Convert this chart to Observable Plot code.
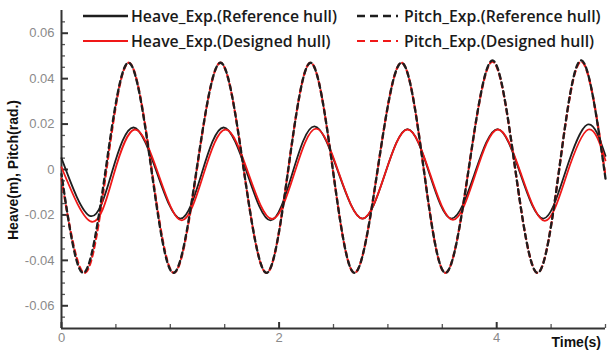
<!DOCTYPE html>
<html>
<head>
<meta charset="utf-8">
<script src="https://cdn.jsdelivr.net/npm/d3@7"></script>
<script src="https://cdn.jsdelivr.net/npm/@observablehq/plot@0.6"></script>
<style>
  html, body { margin: 0; padding: 0; background: #fff; }
  svg { display: block; }
</style>
</head>
<body>
<div id="chart"></div>
<script>
// [time (s), value]
const heaveRef = [[0,0.005],[0.267,-0.0205],[0.465,-0.001],[0.662,0.0185],[0.878,-0.0015],[1.094,-0.0216],[1.29,-0.0015],[1.489,0.0185],[1.705,-0.0015],[1.921,-0.0224],[2.123,-0.0015],[2.325,0.019],[2.546,-0.0015],[2.767,-0.0216],[2.973,-0.002],[3.18,0.0178],[3.383,-0.002],[3.585,-0.0216],[3.796,-0.002],[4.007,0.0178],[4.218,-0.002],[4.43,-0.0216],[4.632,-0.001],[4.835,0.0198],[5.0,0.006]];
const heaveDes = [[0,0.001],[0.28,-0.023],[0.478,-0.0025],[0.675,0.0176],[0.89,-0.002],[1.106,-0.0224],[1.306,-0.002],[1.508,0.0176],[1.72,-0.002],[1.935,-0.0218],[2.138,-0.002],[2.34,0.018],[2.553,-0.002],[2.767,-0.0216],[2.973,-0.002],[3.18,0.0176],[3.388,-0.002],[3.598,-0.0222],[3.805,-0.002],[4.013,0.0176],[4.228,-0.0025],[4.443,-0.0226],[4.642,-0.0025],[4.842,0.0176],[5.0,0.004]];
const pitchRef = [[0,-0.002],[0.202,-0.0455],[0.409,0.001],[0.616,0.047],[0.823,0.001],[1.029,-0.0455],[1.245,0.001],[1.461,0.047],[1.672,0.001],[1.884,-0.0455],[2.087,0.001],[2.289,0.047],[2.491,0.001],[2.693,-0.0455],[2.909,0.001],[3.125,0.047],[3.327,0.001],[3.529,-0.0455],[3.745,0.001],[3.961,0.048],[4.168,0.001],[4.375,-0.0455],[4.577,0.001],[4.779,0.048],[5.0,-0.004]];
const pitchDes = [[0,-0.004],[0.215,-0.0455],[0.416,0.001],[0.618,0.047],[0.826,0.001],[1.033,-0.0455],[1.247,0.001],[1.461,0.047],[1.672,0.001],[1.884,-0.0455],[2.087,0.001],[2.289,0.047],[2.491,0.001],[2.693,-0.0455],[2.909,0.001],[3.125,0.047],[3.327,0.001],[3.529,-0.0455],[3.745,0.001],[3.961,0.0475],[4.168,0.001],[4.375,-0.0455],[4.577,0.001],[4.779,0.0475],[5.0,-0.003]];

const yMajor = [-0.06,-0.04,-0.02,0,0.02,0.04,0.06];
const yMinor = [-0.065,-0.055,-0.05,-0.045,-0.035,-0.03,-0.025,-0.015,-0.01,-0.005,0.005,0.01,0.015,0.025,0.03,0.035,0.045,0.05,0.055,0.065];
const xMajor = [0,2,4];
const xMinor = [0.5,1,1.5,2.5,3,3.5,4.5,5];

const seriesNames = ["Heave_Exp.(Reference hull)","Heave_Exp.(Designed hull)","Pitch_Exp.(Reference hull)","Pitch_Exp.(Designed hull)"];
const xTitle = "Time(s)";
const yTitle = "Heave(m), Pitch(rad.)";

const W = 609, H = 354, mL = 61, mR = 4, mT = 10, mB = 26;
const innerW = W - mL - mR, innerH = H - mT - mB;
const fmt = d => d === 0 ? "0" : (d < 0 ? "-" : "") + Math.abs(d).toFixed(2);
const BLACK = "#1e1e1e", RED = "#f01818";

const chart = Plot.plot({
  width: W, height: H,
  marginLeft: mL, marginRight: mR, marginTop: mT, marginBottom: mB,
  style: {fontFamily: "'Liberation Sans', Arial, sans-serif", fontSize: "13px", background: "#fff", color: "#222"},
  x: {domain: [0, 5]},
  y: {domain: [-0.07, 0.07]},
  marks: [
    Plot.axisY(yMajor, {tickSize: 0, tickPadding: 7, tickFormat: fmt, color: "#8a8a8a", fontSize: 13, label: null}),
    Plot.axisX(xMajor, {tickSize: 0, tickPadding: 4, tickFormat: d => String(d), color: "#8a8a8a", fontSize: 13, label: null}),
    Plot.tickY(yMajor, {y: d => d, insetRight: innerW - 7, stroke: "#333", strokeWidth: 2}),
    Plot.tickY(yMinor, {y: d => d, insetRight: innerW - 4, stroke: "#555", strokeWidth: 1.3}),
    Plot.tickX(xMajor, {x: d => d, insetTop: innerH - 6, stroke: "#333", strokeWidth: 2}),
    Plot.tickX(xMinor, {x: d => d, insetTop: innerH - 4, stroke: "#555", strokeWidth: 1.3}),
    Plot.ruleX([0], {stroke: "#333", strokeWidth: 2}),
    Plot.ruleY([-0.07], {stroke: "#333", strokeWidth: 2}),
    Plot.line(heaveRef, {x: d => d[0], y: d => d[1], curve: "natural", stroke: BLACK, strokeWidth: 1.8}),
    Plot.line(heaveDes, {x: d => d[0], y: d => d[1], curve: "natural", stroke: RED, strokeWidth: 1.8}),
    Plot.line(pitchDes, {x: d => d[0], y: d => d[1], curve: "natural", stroke: RED, strokeWidth: 2.3, strokeDasharray: "5,4"}),
    Plot.line(pitchRef, {x: d => d[0], y: d => d[1], curve: "natural", stroke: BLACK, strokeWidth: 2.3, strokeDasharray: "5,4", strokeDashoffset: 3})
  ]
});
document.getElementById("chart").appendChild(chart);

const svg = d3.select(chart);
// axis titles
svg.append("text").attr("x", 601).attr("y", 347).attr("text-anchor", "end")
  .attr("font-family", "'Liberation Sans', Arial, sans-serif").attr("font-weight", "bold").attr("font-size", 14)
  .attr("fill", "#111").text(xTitle);
svg.append("text").attr("transform", "translate(18,170) rotate(-90)").attr("text-anchor", "middle")
  .attr("font-family", "'Liberation Sans', Arial, sans-serif").attr("font-weight", "bold").attr("font-size", 14)
  .attr("fill", "#111").text(yTitle);

// legend
const leg = svg.append("g").attr("font-family", "'Open Sans', sans-serif").attr("font-weight", 600).attr("font-size", 15.8).attr("fill", "#1a1a1a").attr("text-anchor", "start");
const items = [
  {name: seriesNames[0], x0: 83, x1: 128, tx: 131, y: 16, color: BLACK, dash: null, w: 2.6},
  {name: seriesNames[1], x0: 83, x1: 128, tx: 131, y: 41, color: RED, dash: null, w: 2},
  {name: seriesNames[2], x0: 357, x1: 398, tx: 404, y: 16, color: BLACK, dash: "8,5", w: 2.6},
  {name: seriesNames[3], x0: 357, x1: 398, tx: 404, y: 41, color: RED, dash: "8,5", w: 2.2}
];
for (const it of items) {
  leg.append("line").attr("x1", it.x0).attr("x2", it.x1).attr("y1", it.y).attr("y2", it.y)
    .attr("stroke", it.color).attr("stroke-width", it.w).attr("stroke-dasharray", it.dash);
  leg.append("text").attr("x", it.tx).attr("y", it.y + 5.5).attr("text-anchor", "start").text(it.name);
}
</script>
</body>
</html>
